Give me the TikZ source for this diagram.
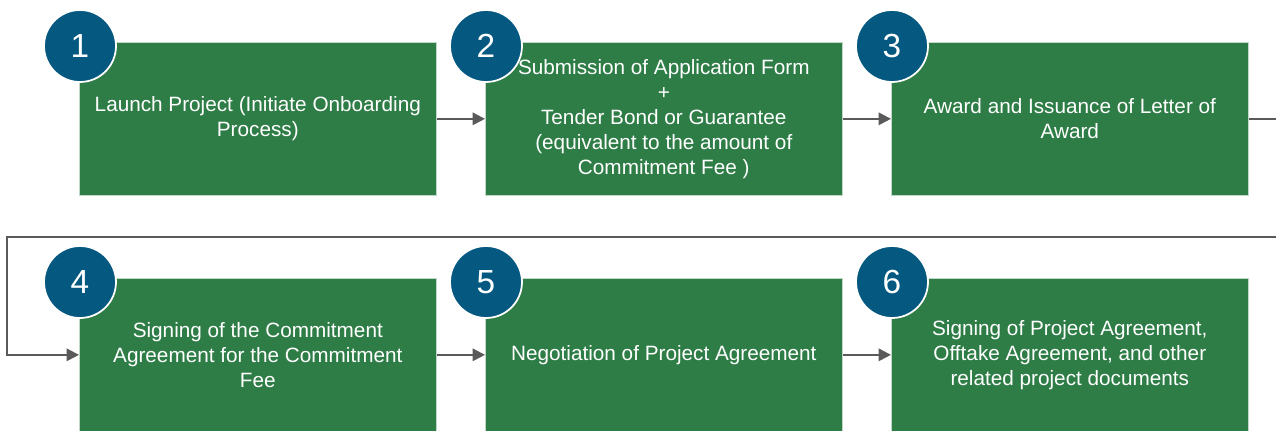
\documentclass[tikz,border=0pt]{standalone}
\usepackage{fontspec}
\setmainfont{Liberation Sans}
\usetikzlibrary{arrows.meta}
\definecolor{boxgreen}{HTML}{2E7D46}
\definecolor{numblue}{HTML}{05587F}
\definecolor{linegray}{HTML}{5A5A5A}

\begin{document}
\begin{tikzpicture}[x=0.02cm,y=-0.02cm,
    stepbox/.style={fill=boxgreen, draw=white!70!boxgreen, anchor=north west,
        minimum width=7.14cm, minimum height=3.06cm, inner sep=0pt,
        text=white, align=center, font=\fontsize{11.8}{14.2}\selectfont},
    numcirc/.style={circle, fill=numblue, draw=white, line width=1pt,
        minimum size=1.44cm, inner sep=0pt, text=white,
        font=\fontsize{19}{22}\selectfont},
    flow/.style={draw=linegray, line width=1.1pt, -{Triangle[length=7pt,width=7pt]}}]
    \useasboundingbox (0,0) rectangle (1276,430);

    % Draw the step boxes and their numbers
    \foreach \i/\x/\y/\txt in {
        1/79/42/{Launch Project (Initiate Onboarding\\Process)},
        2/485/42/{Submission of Application Form\\+\\Tender Bond or Guarantee\\(equivalent to the amount of\\Commitment Fee )},
        3/891/42/{Award and Issuance of Letter of\\Award},
        4/79/278/{Signing of the Commitment\\Agreement for the Commitment\\Fee},
        5/485/278/{Negotiation of Project Agreement},
        6/891/278/{Signing of Project Agreement,\\Offtake Agreement, and other\\related project documents}} {
        \node[stepbox] (step\i) at (\x,\y) {\txt};
        \node[numcirc] (num\i) at ([xshift=0.02cm,yshift=-0.08cm]step\i.north west) {\i};
    }

    % Arrows inside each row
    \draw[flow] (step1) -- (step2);
    \draw[flow] (step2) -- (step3);
    \draw[flow] (step4) -- (step5);
    \draw[flow] (step5) -- (step6);

    % Line from row 1 round to row 2
    \coordinate (out) at (1276,118);
    \coordinate (back) at (1276,237);
    \coordinate (turn) at (7,237);
    \draw[draw=linegray, line width=1.1pt] (step3.east) -- (step3.east -| out);
    \draw[flow] (back) -- (turn) |- (step4.west);

\end{tikzpicture}
\end{document}
